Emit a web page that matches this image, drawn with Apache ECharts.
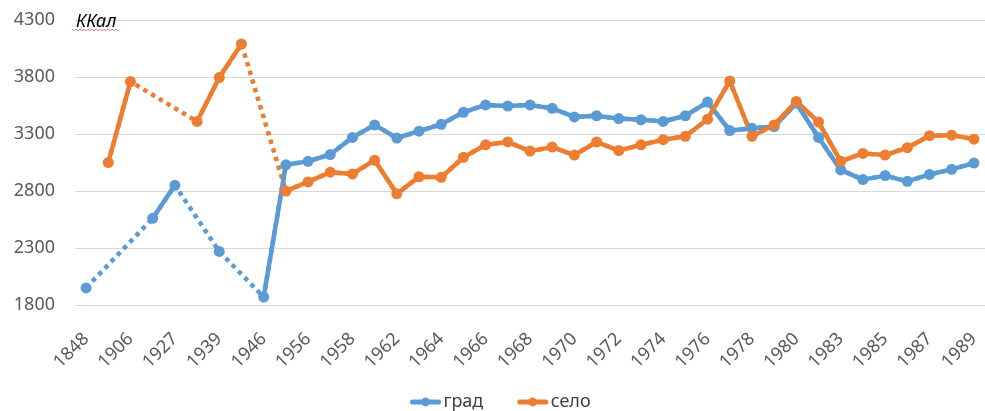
<!DOCTYPE html>
<html>
<head>
<meta charset="utf-8">
<script src="https://cdn.jsdelivr.net/npm/echarts@6/dist/echarts.min.js"></script>
<style>html,body{margin:0;padding:0;background:#fff}#c{width:985px;height:411px}</style>
</head>
<body>
<div id="c"></div>
<script>
// Categories (only every other one is labelled in the reference)
var categories = ['1848','1880','1906','1913','1927','1935','1939','1944','1946','1953',
  '1956','1957','1958','1960','1962','1963','1964','1965','1966','1967',
  '1968','1969','1970','1971','1972','1973','1974','1975','1976','1977',
  '1978','1979','1980','1982','1983','1984','1985','1986','1987','1988','1989'];
var grad = [1950, null, null, 2560, 2850, null, 2270, null, 1870, 3030,
  3060, 3120, 3270, 3380, 3265, 3325, 3385, 3490, 3555, 3545,
  3555, 3525, 3450, 3460, 3435, 3425, 3410, 3460, 3580, 3330,
  3350, 3365, 3570, 3270, 2985, 2900, 2935, 2885, 2945, 2990, 3045];
var selo = [null, 3050, 3760, null, null, 3410, 3795, 4090, null, 2800,
  2880, 2965, 2950, 3070, 2775, 2925, 2920, 3095, 3205, 3230,
  3150, 3185, 3115, 3230, 3155, 3205, 3250, 3280, 3430, 3765,
  3280, 3380, 3585, 3405, 3060, 3130, 3115, 3180, 3285, 3290, 3255];
var yTicks = [1800, 2300, 2800, 3300, 3800, 4300];
var seriesNames = ['град', 'село'];
var unitLabel = 'ККал';

var BLUE = '#5B9BD5', ORANGE = '#ED7D31';
var chart = echarts.init(document.getElementById('c'), null, {renderer: 'canvas'});
function solid(name, data, color) {
  return {
    name: name, type: 'line', data: data, connectNulls: false,
    symbol: 'circle', symbolSize: 11, showSymbol: true,
    lineStyle: {color: color, width: 4.5, cap: 'round', join: 'round'},
    itemStyle: {color: color}, z: 3, animation: false
  };
}
function dotted(name, data, color) {
  return {
    name: name, type: 'line', data: data, connectNulls: true,
    symbol: 'none', showSymbol: false,
    lineStyle: {color: color, width: 4.5, type: [4.5, 4.5], cap: 'butt'},
    itemStyle: {color: color}, z: 2, animation: false
  };
}
chart.setOption({
  animation: false,
  textStyle: {fontFamily: 'Noto Sans'},
  title: {
    text: unitLabel, left: 71, top: 8,
    textStyle: {fontStyle: 'italic', fontWeight: 'normal', fontSize: 18, color: '#000', fontFamily: 'Noto Sans'}
  },
  legend: {
    data: seriesNames, left: 405, top: 388,
    itemWidth: 26, itemHeight: 11, itemGap: 34,
    lineStyle: {width: 5},
    textStyle: {fontSize: 18, color: '#404040', fontFamily: 'Noto Sans'}
  },
  grid: {left: 75, top: 20, width: 916, height: 285, containLabel: false},
  xAxis: {
    type: 'category', data: categories, boundaryGap: true,
    axisLine: {show: true, lineStyle: {color: '#d9d9d9', width: 1}},
    axisTick: {show: false},
    axisLabel: {interval: 1, rotate: 45, color: '#595959', fontSize: 18, margin: 31, fontFamily: 'Noto Sans'},
    splitLine: {show: false}
  },
  yAxis: {
    type: 'value', min: 1800, max: 4300,
    axisLine: {show: false},
    axisTick: {show: false, customValues: yTicks},
    axisLabel: {customValues: yTicks, formatter: function (v) { return String(v); },
      color: '#595959', fontSize: 18, margin: 20, fontFamily: 'Noto Sans'},
    splitLine: {show: true, lineStyle: {color: '#d9d9d9', width: 1}}
  },
  series: [
    solid(seriesNames[0], grad, BLUE),
    solid(seriesNames[1], selo, ORANGE),
    dotted(seriesNames[0], grad, BLUE),
    dotted(seriesNames[1], selo, ORANGE)
  ],
  graphic: [{
    type: 'polyline', z: 10,
    shape: {points: [[72,29],[74,31],[76,29],[78,31],[80,29],[82,31],[84,29],[86,31],[88,29],[90,31],[92,29],[94,31],[96,29],[98,31],[100,29],[102,31],[104,29],[106,31],[108,29],[110,31],[112,29],[114,31],[116,29],[118,31]]},
    style: {stroke: '#e06666', lineWidth: 0.8, fill: null}
  }]
});
</script>
</body>
</html>
